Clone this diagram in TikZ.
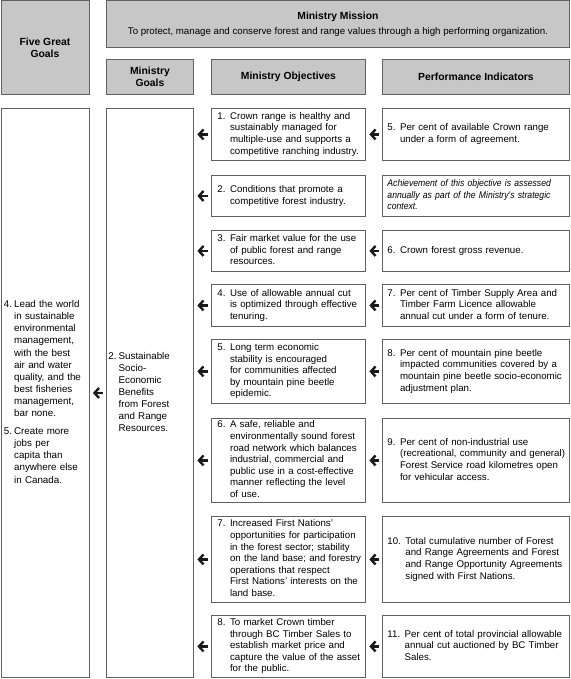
\documentclass[tikz,border=0pt]{standalone}
\usepackage{fontspec}
\setmainfont{Liberation Sans}
\newfontfamily\italcond[FakeStretch=0.89]{Liberation Sans}
\usetikzlibrary{arrows.meta}
\definecolor{hdrfill}{gray}{0.78}
\definecolor{edgegray}{gray}{0.38}
\newcommand\bodyfont{\fontsize{9.7}{11.6}\selectfont}
\newcommand\headfont{\fontsize{10.35}{12.7}\selectfont\bfseries}
\newenvironment{numlist}{\begin{tabular}{@{}l@{\hspace{4.5pt}}l@{}}}{\end{tabular}}
\newenvironment{goallist}{\begin{tabular}{@{}l@{\hspace{2pt}}l@{}}}{\end{tabular}}
\tikzset{
  box/.style={draw=edgegray, line width=0.9pt, rectangle, inner ysep=0pt, anchor=north west, font=\bodyfont, align=left},
  hdr/.style={draw=edgegray, line width=0.9pt, rectangle, inner sep=0pt, anchor=north west, fill=hdrfill, align=center, font=\headfont},
  objbox/.style={box, minimum width=154, text width=142, inner xsep=6},
  pibox/.style={box, minimum width=187, text width=177, inner xsep=5},
  arr/.style={-{Straight Barb[length=4.5pt,width=10pt]}, line width=2.4pt, shorten <=3pt, shorten >=3.5pt, draw=black!90},
}
\begin{document}
\begin{tikzpicture}[x=1pt,y=-1pt]
\useasboundingbox (0,0) rectangle (570,679);
% headers
\node[hdr, minimum width=88, minimum height=94] (fgg) at (0.5,0.5) {Five Great\\Goals};
\node[hdr, minimum width=463, minimum height=47, font=\bodyfont] (mission) at (106,0.5)
  {{\headfont Ministry Mission}\\[3.5pt]To protect, manage and conserve forest and range values through a high performing organization.};
\node[hdr, minimum width=87, minimum height=35] (mgh) at (106,59) {Ministry\\Goals};
\node[hdr, minimum width=154, minimum height=35] (moh) at (211,59) {Ministry Objectives};
\node[hdr, minimum width=187, minimum height=35] (pih) at (382,59) {Performance Indicators};
% body columns
\node[box, minimum width=88, minimum height=569, text width=82, inner xsep=3, font=\fontsize{9.8}{12.1}\selectfont] (fgb) at (0.5,108)
  {\begin{goallist}
  4.&Lead the world\\ &in sustainable\\ &environmental\\ &management,\\ &with the best\\ &air and water\\ &quality, and the\\ &best fisheries\\ &management,\\ &bar none.\\[6pt]
  5.&Create more\\ &jobs per\\ &capita than\\ &anywhere else\\ &in Canada.
  \end{goallist}};
\node[box, minimum width=87, minimum height=569, text width=83, inner xsep=2, font=\fontsize{9.8}{12.1}\selectfont] (mgb) at (106,108)
  {\begin{goallist}
  2.&Sustainable\\ &Socio-\\ &Economic\\ &Benefits\\ &from Forest\\ &and Range\\ &Resources.
  \end{goallist}};
% objectives
\node[objbox, minimum height=52] (o1) at (211,108) {\begin{numlist}
 1.&Crown range is healthy and\\ &sustainably managed for\\ &multiple-use and supports a\\ &competitive ranching industry.\end{numlist}};
\node[objbox, minimum height=41] (o2) at (211,175) {\begin{numlist}
 2.&Conditions that promote a\\ &competitive forest industry.\end{numlist}};
\node[objbox, minimum height=41] (o3) at (211,230) {\begin{numlist}
 3.&Fair market value for the use\\ &of public forest and range\\ &resources.\end{numlist}};
\node[objbox, minimum height=42] (o4) at (211,284) {\begin{numlist}
 4.&Use of allowable annual cut\\ &is optimized through effective\\ &tenuring.\end{numlist}};
\node[objbox, minimum height=64] (o5) at (211,339) {\begin{numlist}
 5.&Long term economic\\ &stability is encouraged\\ &for communities affected\\ &by mountain pine beetle\\ &epidemic.\end{numlist}};
\node[objbox, minimum height=84] (o6) at (211,418) {\begin{numlist}
 6.&A safe, reliable and\\ &environmentally sound forest\\ &road network which balances\\ &industrial, commercial and\\ &public use in a cost-effective\\ &manner reflecting the level\\ &of use.\end{numlist}};
\node[objbox, minimum height=86] (o7) at (211,516) {\begin{numlist}
 7.&Increased First Nations'\\ &opportunities for participation\\ &in the forest sector; stability\\ &on the land base; and forestry\\ &operations that respect\\ &First Nations' interests on the\\ &land base.\end{numlist}};
\node[objbox, minimum height=62] (o8) at (211,615) {\begin{numlist}
 8.&To market Crown timber\\ &through BC Timber Sales to\\ &establish market price and\\ &capture the value of the asset\\ &for the public.\end{numlist}};
% performance indicators
\node[pibox, minimum height=52] (p1) at (382,108) {\begin{numlist}
 5.&Per cent of available Crown range\\ &under a form of agreement.\end{numlist}};
\node[pibox, minimum height=41] (p2) at (382,175) {\begin{tabular}{@{}l@{}}\italcond\itshape Achievement of this objective is assessed\\ \italcond\itshape annually as part of the Ministry's strategic\\ \italcond\itshape context.\end{tabular}};
\node[pibox, minimum height=41] (p3) at (382,230) {\begin{numlist}
 6.&Crown forest gross revenue.\end{numlist}};
\node[pibox, minimum height=42] (p4) at (382,284) {\begin{numlist}
 7.&Per cent of Timber Supply Area and\\ &Timber Farm Licence allowable\\ &annual cut under a form of tenure.\end{numlist}};
\node[pibox, minimum height=64] (p5) at (382,339) {\begin{numlist}
 8.&Per cent of mountain pine beetle\\ &impacted communities covered by a\\ &mountain pine beetle socio-economic\\ &adjustment plan.\end{numlist}};
\node[pibox, minimum height=84] (p6) at (382,418) {\begin{numlist}
 9.&Per cent of non-industrial use\\ &(recreational, community and general)\\ &Forest Service road kilometres open\\ &for vehicular access.\end{numlist}};
\node[pibox, minimum height=86] (p7) at (382,516) {\begin{numlist}
 10.&Total cumulative number of Forest\\ &and Range Agreements and Forest\\ &and Range Opportunity Agreements\\ &signed with First Nations.\end{numlist}};
\node[pibox, minimum height=62] (p8) at (382,615) {\begin{numlist}
 11.&Per cent of total provincial allowable\\ &annual cut auctioned by BC Timber\\ &Sales.\end{numlist}};
% arrows
\draw[arr] (mgb.west) -- (fgb.east);
\foreach \i in {1,...,8} { \draw[arr] (o\i.west) -- (o\i.west -| mgb.east); }
\foreach \i in {1,3,4,5,6,7,8} { \draw[arr] (p\i.west) -- (o\i.east); }
\end{tikzpicture}
\end{document}
